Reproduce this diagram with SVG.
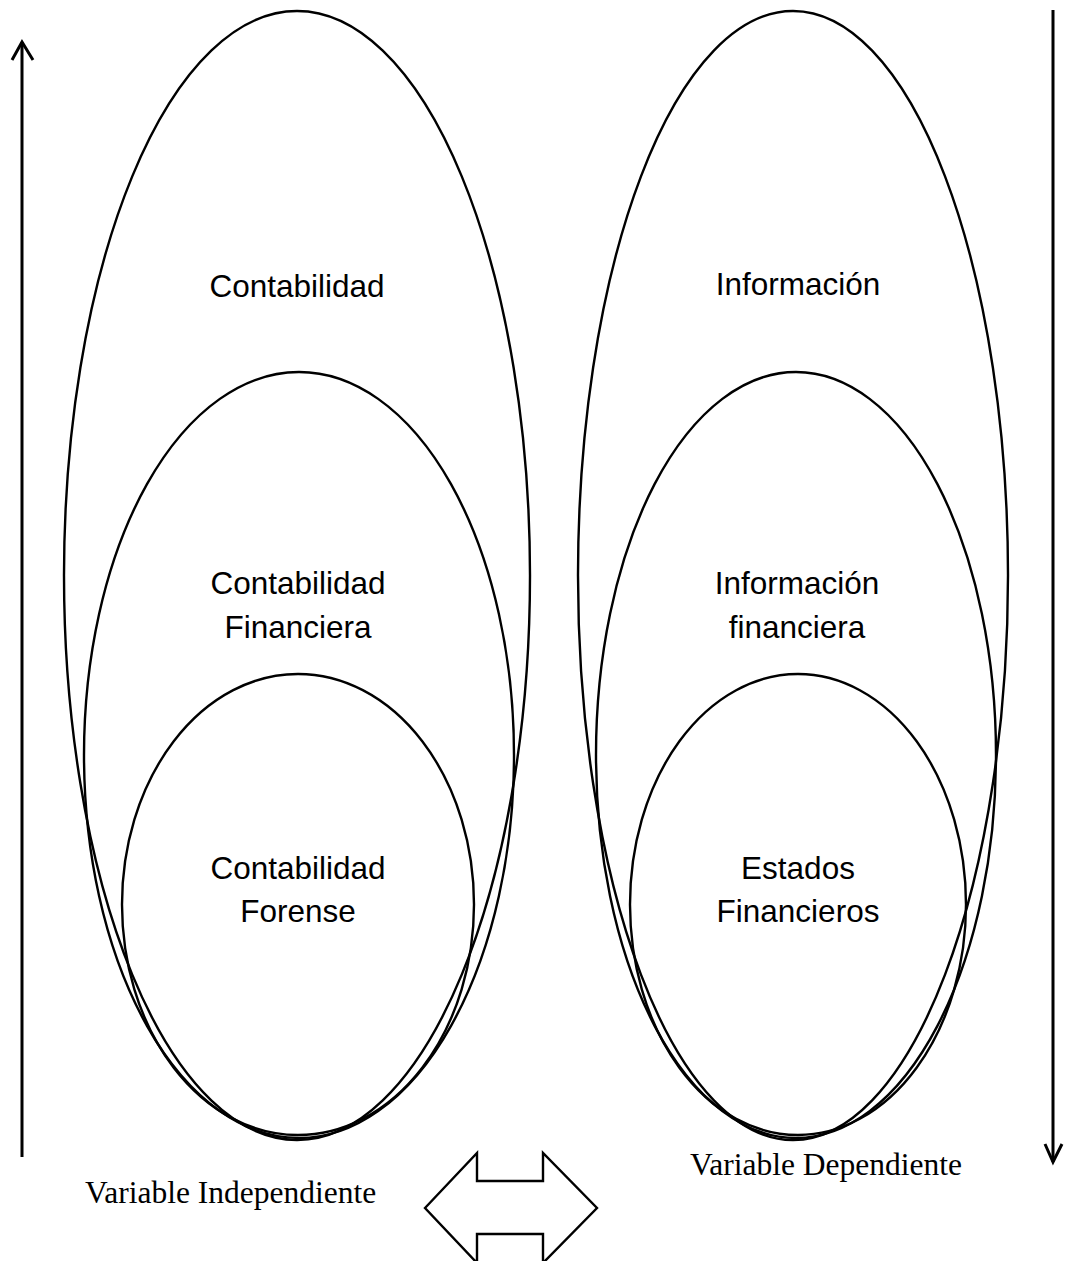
<svg xmlns="http://www.w3.org/2000/svg" width="1065" height="1261" viewBox="0 0 1065 1261">
<style>
.e{fill:none;stroke:#000;stroke-width:2.4}
.t{font-family:"Liberation Sans",Arial,sans-serif;font-size:31.5px;text-anchor:middle;fill:#000}
.s{font-family:"Liberation Serif","Times New Roman",serif;font-size:31.5px;fill:#000}
.a{fill:none;stroke:#000;stroke-width:3}
</style>
<rect width="1065" height="1261" fill="#fff"/>
<g id="contabilidad"><ellipse class="e" cx="297" cy="575.5" rx="233" ry="564.5"/><text class="t" x="297" y="297">Contabilidad</text></g>
<g id="contabilidad-financiera"><ellipse class="e" cx="299" cy="755" rx="215" ry="383"/><text class="t" x="298" y="594">Contabilidad</text><text class="t" x="298" y="638">Financiera</text></g>
<g id="contabilidad-forense"><ellipse class="e" cx="298" cy="904.5" rx="176" ry="230.5"/><text class="t" x="298" y="879">Contabilidad</text><text class="t" x="298" y="922">Forense</text></g>
<g id="informacion"><ellipse class="e" cx="793" cy="575.5" rx="215" ry="564.5"/><text class="t" x="798" y="295">Información</text></g>
<g id="informacion-financiera"><ellipse class="e" cx="796" cy="755" rx="200" ry="383"/><text class="t" x="797" y="594">Información</text><text class="t" x="797" y="638">financiera</text></g>
<g id="estados-financieros"><ellipse class="e" cx="798" cy="904.5" rx="168" ry="230.5"/><text class="t" x="798" y="879">Estados</text><text class="t" x="798" y="922">Financieros</text></g>
<g id="connectors">
<line class="a" x1="22" y1="42" x2="22" y2="1157"/>
<polyline class="a" points="12,60 22,42 33,60"/>
<line class="a" x1="1053" y1="10" x2="1053" y2="1162"/>
<polyline class="a" points="1045,1144 1053,1162 1062,1144"/>
<polygon fill="#fff" stroke="#000" stroke-width="2.4" points="425,1208 477,1153 477,1181 543,1181 543,1153 597,1208 543,1263 543,1234 477,1234 477,1263"/>
</g>
<g id="labels">
<text class="s" x="85" y="1203">Variable Independiente</text>
<text class="s" x="690" y="1175">Variable Dependiente</text>
</g>
</svg>
